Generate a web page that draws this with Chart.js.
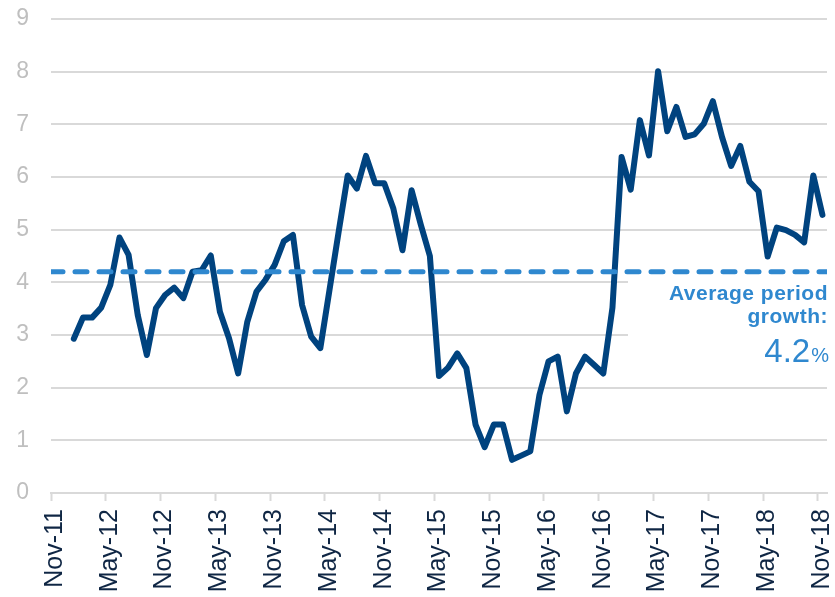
<!DOCTYPE html>
<html>
<head>
<meta charset="utf-8">
<script src="https://cdn.jsdelivr.net/npm/chart.js@4.4.1/dist/chart.umd.min.js"></script>
<style>
  body { margin: 0; background: #fff; }
  #wrap { width: 835px; height: 597px; position: relative; }
</style>
</head>
<body>
<div id="wrap"><canvas id="growthChart"></canvas></div>
<script>
// tick labels on the x axis, one every 6 months (month 0 = Nov-11)
var tickLabels = ['Nov-11', 'May-12', 'Nov-12', 'May-13', 'Nov-13', 'May-14', 'Nov-14',
    'May-15', 'Nov-15', 'May-16', 'Nov-16', 'May-17', 'Nov-17', 'May-18', 'Nov-18'];

// monthly growth, Jan-12 .. Nov-18
var firstMonth = 2; // Jan-12
var growth = [
    2.93, 3.33, 3.33, 3.52, 3.95, 4.85, 4.52, 3.38, 2.62, 3.51, 3.76,   // Jan-12 .. Nov-12
    3.90, 3.70, 4.20, 4.23, 4.51, 3.44, 2.94, 2.27, 3.25, 3.82, 4.05, 4.33, // Dec-12 .. Nov-13
    4.78, 4.90, 3.57, 2.97, 2.75, 3.85, 4.95, 6.03, 5.78, 6.40, 5.88, 5.88, // Dec-13 .. Nov-14
    5.40, 4.61, 5.75, 5.10, 4.50, 2.22, 2.38, 2.65, 2.37, 1.30, 0.87, 1.30, // Dec-14 .. Nov-15
    1.30, 0.63, 0.71, 0.79, 1.86, 2.50, 2.59, 1.55, 2.27, 2.59, 2.43, 2.27, // Dec-15 .. Nov-16
    3.52, 6.38, 5.76, 7.08, 6.41, 8.01, 6.87, 7.33, 6.76, 6.81, 7.01, 7.44, // Dec-16 .. Nov-17
    6.76, 6.21, 6.59, 5.91, 5.73, 4.49, 5.04, 4.99, 4.90, 4.76, 6.03, 5.28  // Dec-17 .. Nov-18
];
var averageGrowth = 4.2;
var yTicks = [0, 1, 2, 3, 4, 5, 6, 7, 8, 9];

var lastMonth = 85; // axis runs to Dec-18

// monthly figures sit in the middle of their month
var points = growth.map(function(v, i) {
    return { x: firstMonth + i + 0.5, y: v };
});

var navy = '#00437F';
var lightBlue = '#2F88CF';
var grid = '#D9D9D9';

// no extra room for overhanging tick labels, layout padding decides
function noScalePadding(scale) {
    scale.paddingTop = 0;
    scale.paddingBottom = 0;
    scale.paddingLeft = 0;
    scale.paddingRight = 0;
}

// white box behind the average label (hides grid lines), then the label itself
var averageLabel = {
    id: 'averageLabel',
    beforeDatasetsDraw: function(chart) {
        var y = chart.scales.y;
        var c = chart.ctx;
        var top = y.getPixelForValue(averageGrowth) + 5;
        var bottom = y.getPixelForValue(2) - 12;
        c.save();
        c.fillStyle = '#fff';
        c.fillRect(628, top, chart.width - 628, bottom - top);
        c.restore();
    },
    afterDatasetsDraw: function(chart) {
        var c = chart.ctx;
        c.save();
        c.fillStyle = lightBlue;
        c.textAlign = 'right';
        c.textBaseline = 'alphabetic';
        c.letterSpacing = '0.5px';
        c.font = 'bold 21px "Liberation Sans", Arial, sans-serif';
        c.fillText('Average period', 828, 300);
        c.fillText('growth:', 828, 323);
        c.letterSpacing = '0px';
        c.font = '20px "Liberation Sans", Arial, sans-serif';
        c.fillText('%', 829, 362);
        var pw = c.measureText('%').width;
        c.font = '33px "Liberation Sans", Arial, sans-serif';
        c.fillText(averageGrowth.toFixed(1), 829 - pw - 1, 362);
        c.restore();
    }
};

var ctx = document.getElementById('growthChart').getContext('2d');
var growthChart = new Chart(ctx, {
    type: 'line',
    data: {
        datasets: [{
            label: 'Growth',
            data: points,
            borderColor: navy,
            borderWidth: 6,
            borderJoinStyle: 'round',
            borderCapStyle: 'round',
            pointRadius: 0,
            tension: 0,
            order: 1
        }, {
            label: 'Average',
            data: [{ x: 0, y: averageGrowth }, { x: lastMonth, y: averageGrowth }],
            borderColor: lightBlue,
            borderWidth: 5,
            borderDash: [12, 12],
            borderCapStyle: 'round',
            pointRadius: 0,
            order: 0
        }]
    },
    options: {
        responsive: true,
        maintainAspectRatio: false,
        animation: false,
        layout: { padding: { top: 19, right: 8, left: 0, bottom: 0 } },
        plugins: {
            legend: { display: false },
            tooltip: { enabled: false }
        },
        scales: {
            x: {
                type: 'linear',
                min: 0,
                max: lastMonth,
                afterBuildTicks: function(scale) {
                    scale.ticks = tickLabels.map(function(t, i) { return { value: i * 6 }; });
                },
                afterFit: function(scale) {
                    scale.height = 104;
                    noScalePadding(scale);
                },
                ticks: {
                    autoSkip: false,
                    minRotation: 90,
                    maxRotation: 90,
                    padding: 8,
                    labelOffset: 4,
                    color: '#0F2644',
                    font: { family: '"Liberation Sans", Arial, sans-serif', size: 25 },
                    callback: function(value) { return tickLabels[value / 6]; }
                },
                grid: {
                    drawOnChartArea: false,
                    drawTicks: true,
                    tickLength: 8,
                    tickColor: grid,
                    tickWidth: 2
                },
                border: { display: true, color: grid, width: 2 }
            },
            y: {
                min: 0,
                max: 9,
                afterBuildTicks: function(scale) {
                    scale.ticks = yTicks.map(function(v) { return { value: v }; });
                },
                afterFit: function(scale) {
                    scale.width = 51;
                    noScalePadding(scale);
                },
                ticks: {
                    padding: 22,
                    color: '#BFBFBF',
                    font: { family: '"Liberation Sans", Arial, sans-serif', size: 23 }
                },
                grid: { color: grid, lineWidth: 2, drawTicks: false },
                border: { display: false }
            }
        }
    },
    plugins: [averageLabel]
});
</script>
</body>
</html>
